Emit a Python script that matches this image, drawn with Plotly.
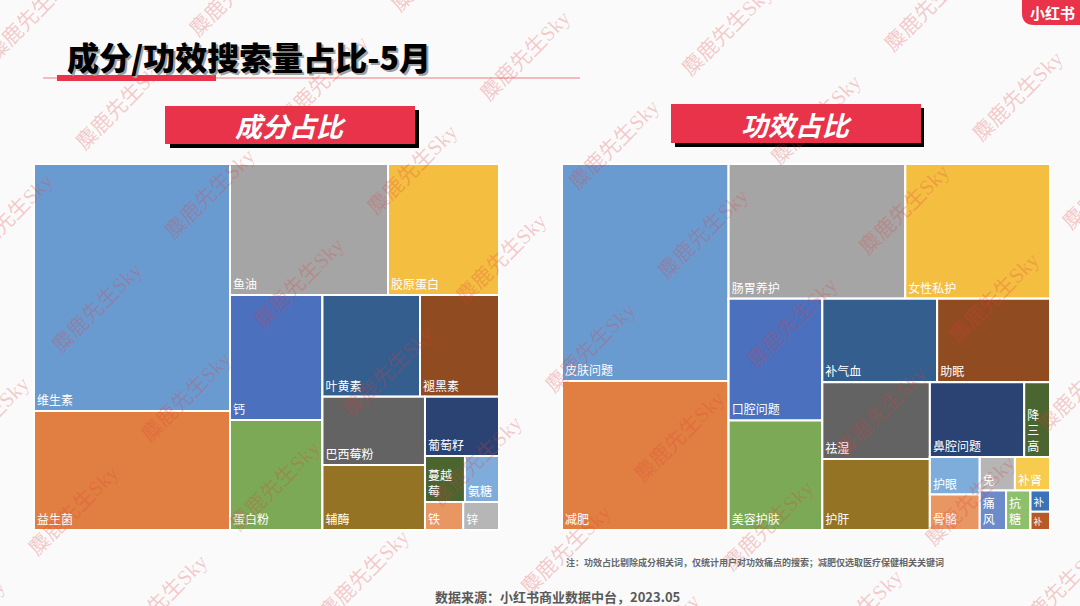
import plotly.graph_objects as go

W, H = 1080, 606

# ---------------- data ----------------
ing_labels = ["维生素", "益生菌", "鱼油", "胶原蛋白", "钙", "蛋白粉", "叶黄素", "褪黑素",
              "巴西莓粉", "辅酶", "葡萄籽", "蔓越莓", "氨糖", "铁", "锌"]
ing_values = [28.45, 13.70, 12.16, 8.54, 6.79, 5.98, 5.84, 4.73,
              4.10, 3.92, 2.57, 1.08, 0.92, 0.63, 0.59]
ing_colors = ["#6A9BD0", "#E07F41", "#A5A5A5", "#F4BE41", "#4A70BE", "#7CA955", "#335E8E", "#914B21",
              "#636363", "#947424", "#2A4373", "#4A652F", "#7FADDB", "#E89763", "#B6B6B6"]

eff_labels = ["皮肤问题", "减肥", "肠胃养护", "女性私护", "口腔问题", "美容护肤", "补气血", "助眠",
              "祛湿", "护肝", "鼻腔问题", "降三高", "护眼", "骨骼", "免", "补肾", "痛风", "抗糖", "补", "补"]
eff_values = [20.25, 13.90, 13.33, 10.92, 6.38, 5.75, 5.36, 5.27,
              4.63, 4.27, 3.95, 1.08, 1.05, 0.99, 0.66, 0.66, 0.58, 0.54, 0.23, 0.20]
eff_colors = ["#6A9BD0", "#E07F41", "#A5A5A5", "#F4BE41", "#4A70BE", "#7CA955", "#335E8E", "#914B21",
              "#636363", "#947424", "#2A4373", "#4A652F", "#7FADDB", "#E89763", "#B6B6B6", "#F6CB4E",
              "#6B8BCB", "#8EBF6B", "#3A73B8", "#B85A28"]

# wrapped display text for narrow tiles
wrap = {"蔓越莓": "蔓越<br>莓", "降三高": "降<br>三<br>高", "痛风": "痛<br>风", "抗糖": "抗<br>糖"}

# grouping (tree structure, leaf indices) reproducing the Excel-style tiling
ing_tree = [[0, 1], [[2, 3], [[4, 5], [[6, 7], [[8, 9], [10, [11, 12], [13, 14]]]]]]]
eff_tree = [[0, 1], [[2, 3], [[4, 5], [[6, 7], [[8, 9], [[10, 11], [[12, 13], [[14, 15], [16, 17, [18, 19]]]]]]]]]]

title_text = "成分/功效搜索量占比-5月"
left_header = "成分占比"
right_header = "功效占比"
note_text = "注：功效占比剔除成分相关词，仅统计用户对功效痛点的搜索；减肥仅选取医疗保健相关关键词"
source_text = "数据来源：小红书商业数据中台，2023.05"
watermark = "麋鹿先生Sky"


def build(tree, labels, values, colors, prefix):
    ids, parents, labs, vals, cols, texts = [], [], [], [], [], []
    counter = [0]

    def walk(node, parent_id):
        if isinstance(node, int):
            ids.append(f"{prefix}-leaf{node}")
            parents.append(parent_id)
            labs.append(labels[node])
            vals.append(values[node])
            cols.append(colors[node])
            texts.append(wrap.get(labels[node], labels[node]))
        else:
            gid = f"{prefix}-g{counter[0]}"
            counter[0] += 1
            ids.append(gid)
            parents.append(parent_id)
            labs.append(gid)
            vals.append(0)
            cols.append("rgba(255,255,255,0)")
            texts.append("")
            for ch in node:
                walk(ch, gid)

    walk(tree, "")
    return ids, parents, labs, vals, cols, texts


def px(x):
    return x / W


def py(y):
    return 1 - y / H


def treemap(tree, labels, values, colors, prefix, x0, x1, y0, y1):
    ids, parents, labs, vals, cols, texts = build(tree, labels, values, colors, prefix)
    return go.Treemap(
        ids=ids, parents=parents, labels=labs, values=vals, text=texts,
        texttemplate="%{text}", branchvalues="remainder", sort=False,
        marker=dict(colors=cols, line=dict(color="white", width=2),
                    pad=dict(t=0, l=0, r=0, b=0), depthfade=False),
        tiling=dict(packing="slice-dice", pad=0),
        pathbar=dict(visible=False),
        textposition="bottom left",
        textfont=dict(family="Noto Sans CJK SC", size=12, color="white"),
        hoverinfo="skip",
        domain=dict(x=[px(x0), px(x1)], y=[py(y1), py(y0)]),
    )


fig = go.Figure()
fig.add_trace(treemap(ing_tree, ing_labels, ing_values, ing_colors, "ing", 34, 499, 164, 530))
fig.add_trace(treemap(eff_tree, eff_labels, eff_values, eff_colors, "eff", 562, 1050, 164, 530))

RED = "#E8334A"
shapes = []


def rect(x0, y0, x1, y1, color):
    shapes.append(dict(type="rect", xref="paper", yref="paper", x0=px(x0), x1=px(x1),
                       y0=py(y1), y1=py(y0), fillcolor=color, line=dict(width=0), layer="above"))


# title underline
shapes.append(dict(type="line", xref="paper", yref="paper", x0=px(43), x1=px(580), y0=py(78), y1=py(78),
                   line=dict(color="#F4A3AB", width=1.5)))
rect(57, 75, 216, 81, RED)
# banners
rect(170, 110, 419, 148, "#000000")
rect(165, 106, 415, 144, RED)
rect(675, 108, 924, 147, "#000000")
rect(671, 104, 921, 143, RED)


# logo rounded rect
def rounded(x0, y0, x1, y1, r):
    pts = [("M", x0 + r, y0), ("L", x1 - r, y0), ("Q", x1, y0, x1, y0 + r), ("L", x1, y1 - r),
           ("Q", x1, y1, x1 - r, y1), ("L", x0 + r, y1), ("Q", x0, y1, x0, y1 - r), ("L", x0, y0 + r),
           ("Q", x0, y0, x0 + r, y0)]
    s = ""
    for p in pts:
        cmd = p[0]
        coords = p[1:]
        parts = []
        for i in range(0, len(coords), 2):
            parts.append(f"{px(coords[i]):.5f},{py(coords[i + 1]):.5f}")
        s += cmd + " " + " ".join(parts) + " "
    return s + "Z"


shapes.append(dict(type="path", xref="paper", yref="paper", path=rounded(1022, -14, 1095, 25, 12),
                   fillcolor=RED, line=dict(width=0), layer="above"))

annotations = []
# watermarks on a regular lattice
for k in range(-5, 7):
    for m in range(-3, 10):
        cx = 97 + 89 * k + 202 * m
        cy = 308 + 89 * k - 24.7 * m
        if -70 < cx < 1150 and -70 < cy < 680:
            annotations.append(dict(x=px(cx), y=py(cy), xref="paper", yref="paper", text=watermark,
                                    showarrow=False, textangle=-45, xanchor="center", yanchor="middle",
                                    font=dict(family="Liberation Serif, Noto Sans CJK SC", size=21,
                                              color="rgba(225,60,60,0.26)")))

annotations.append(dict(x=px(66.5), y=py(57.5), xref="paper", yref="paper", text=title_text, showarrow=False,
                        xanchor="left", yanchor="middle",
                        font=dict(family="Noto Sans CJK SC", size=32, color="#A0A0A0", weight=900)))
annotations.append(dict(x=px(65), y=py(56), xref="paper", yref="paper", text=title_text, showarrow=False,
                        xanchor="left", yanchor="middle",
                        font=dict(family="Noto Sans CJK SC", size=32, color="#000000", weight=900)))
annotations.append(dict(x=px(290), y=py(126), xref="paper", yref="paper", text=left_header, showarrow=False,
                        xanchor="center", yanchor="middle",
                        font=dict(family="Noto Sans CJK SC", size=27, color="white", weight="bold",
                                  style="italic")))
annotations.append(dict(x=px(796), y=py(124), xref="paper", yref="paper", text=right_header, showarrow=False,
                        xanchor="center", yanchor="middle",
                        font=dict(family="Noto Sans CJK SC", size=27, color="white", weight="bold",
                                  style="italic")))
annotations.append(dict(x=px(1052), y=py(12), xref="paper", yref="paper", text="小红书", showarrow=False,
                        xanchor="center", yanchor="middle",
                        font=dict(family="Noto Sans CJK SC", size=15, color="white", weight="bold")))
annotations.append(dict(x=px(564), y=py(562), xref="paper", yref="paper", text=note_text, showarrow=False,
                        xanchor="left", yanchor="middle",
                        font=dict(family="Noto Sans CJK SC", size=9, color="#666666", weight="bold")))
annotations.append(dict(x=px(433), y=py(596), xref="paper", yref="paper", text=source_text, showarrow=False,
                        xanchor="left", yanchor="middle",
                        font=dict(family="Noto Sans CJK SC", size=13, color="#595959", weight="bold")))

fig.update_layout(
    width=W, height=H,
    margin=dict(l=0, r=0, t=0, b=0),
    paper_bgcolor="#FAFAFA",
    plot_bgcolor="#FAFAFA",
    shapes=shapes,
    annotations=annotations,
    showlegend=False,
)

fig.write_html("out.html")
